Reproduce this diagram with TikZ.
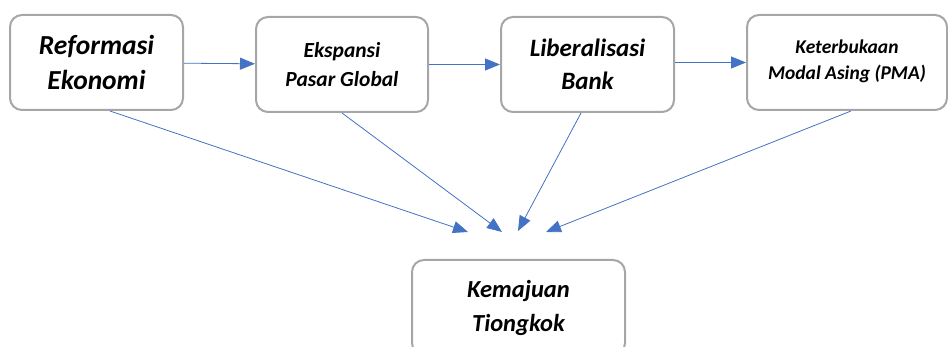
\documentclass[tikz,border=0pt]{standalone}
\usepackage{fontspec}
\setmainfont{Carlito}
\usepackage{tikz}
\usetikzlibrary{arrows.meta}
\usepackage{xcolor}
\definecolor{boxgray}{HTML}{A6A6A6}
\definecolor{arrowblue}{HTML}{4472C4}

\begin{document}
\begin{tikzpicture}[x=1pt,y=-1pt,
    factor/.style={draw=boxgray,line width=2pt,rounded corners=12pt,
      minimum height=95pt,align=center,inner sep=2pt,
      font=\bfseries\itshape},
    link/.style={arrowblue,line width=0.8pt,
      -{Triangle[length=15pt,width=12pt]}}]
      \useasboundingbox (0,0) rectangle (948,347);

      \node[factor,minimum width=173pt,font=\fontsize{27.5}{35}\selectfont\bfseries\itshape]
        (reformasi) at (96.5,62.5) {Reformasi\\Ekonomi};
      \node[factor,minimum width=172pt,font=\fontsize{21.5}{29}\selectfont\bfseries\itshape]
        (ekspansi) at (342,64.5) {Ekspansi\\Pasar Global};
      \node[factor,minimum width=173pt,font=\fontsize{25}{33}\selectfont\bfseries\itshape]
        (liberal) at (587.5,64.5) {Liberalisasi\\Bank};
      \node[factor,minimum width=200pt,font=\fontsize{19.5}{26}\selectfont\bfseries\itshape]
        (modal) at (847,62.5) {Keterbukaan\\Modal Asing (PMA)\\[-20pt]};
      \node[factor,minimum width=213pt,font=\fontsize{24.5}{34}\selectfont\bfseries\itshape]
        (kemajuan) at (518.5,307.5) {Kemajuan\\Tiongkok};

      \coordinate (tip 1) at (468,232);
      \coordinate (tip 2) at (502,232);
      \coordinate (tip 3) at (518,231);
      \coordinate (tip 4) at (546,232);

      \draw[link] (reformasi) -- (ekspansi);
      \draw[link] (ekspansi) -- (liberal);
      \draw[link] (liberal.east |- modal) -- (modal);

      \draw[link] ([xshift=13.5pt]reformasi.south) -- (tip 1);
      \draw[link] (ekspansi.south) -- (tip 2);
      \draw[link] ([xshift=-6.5pt]liberal.south) -- (tip 3);
      \draw[link] ([xshift=4pt]modal.south) -- (tip 4);
    \end{tikzpicture}
\end{document}
